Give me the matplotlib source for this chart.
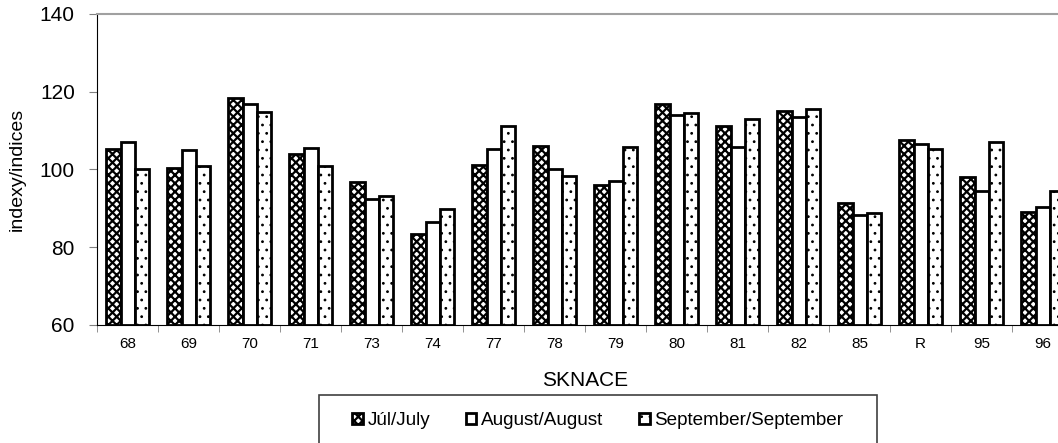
import numpy as np
import matplotlib.pyplot as plt
from matplotlib.patches import Rectangle

plt.rcParams['font.family'] = ['Liberation Sans', 'DejaVu Sans']
plt.rcParams['hatch.linewidth'] = 1.6

categories = ["68", "69", "70", "71", "73", "74", "77", "78", "79", "80", "81", "82", "85", "R", "95", "96"]
jul = [105.4, 100.4, 118.5, 104.0, 96.7, 83.3, 101.1, 106.1, 96.0, 116.9, 111.2, 115.0, 91.4, 107.6, 98.1, 89.1]
aug = [107.2, 105.0, 116.9, 105.5, 92.3, 86.4, 105.2, 100.0, 97.1, 114.0, 105.7, 113.4, 88.4, 106.5, 94.4, 90.3]
sep = [100.1, 100.9, 114.8, 101.0, 93.1, 89.8, 111.2, 98.4, 105.9, 114.6, 113.1, 115.5, 88.8, 105.2, 107.2, 94.5]
series_names = ["Júl/July", "August/August", "September/September"]

fig = plt.figure(figsize=(10.58, 4.43), dpi=100)
ax = fig.add_axes([0.0917, 0.2664, 0.9225, 0.702])

x = np.arange(len(categories))
w = 0.23
base = 60
b1 = ax.bar(x - w, np.array(jul) - base, w, bottom=base, facecolor='white', edgecolor='black',
            linewidth=2, hatch='xxxx', label=series_names[0])
b2 = ax.bar(x, np.array(aug) - base, w, bottom=base, facecolor='white', edgecolor='black',
            linewidth=2, label=series_names[1])
b3 = ax.bar(x + w, np.array(sep) - base, w, bottom=base, facecolor='white', edgecolor='black',
            linewidth=2, hatch='..', label=series_names[2])
for b in b3:
    b._hatch_linewidth = 0.8

ax.set_ylim(60, 140)
ax.set_xlim(-0.5, len(categories) - 0.5)
ax.set_yticks([60, 80, 100, 120, 140])
ax.tick_params(axis='y', labelsize=15, direction='out', length=6, pad=10, color='#808080')
ax.set_xticks(x)
ax.set_xticklabels(categories, fontsize=11)
ax.tick_params(axis='x', which='major', length=0, pad=9)
ax.set_xticks(np.arange(-0.5, len(categories), 1), minor=True)
ax.tick_params(axis='x', which='minor', length=5, direction='out', color='#808080')

ax.spines['right'].set_visible(False)
ax.spines['top'].set_color('#a0a0a0')
ax.spines['top'].set_linewidth(1.5)
ax.spines['left'].set_color('black')
ax.spines['bottom'].set_color('black')

ax.set_ylabel('indexy/indices', fontsize=14, labelpad=10)
ax.set_xlabel('SKNACE', fontsize=15, labelpad=14)

# legend box (open at the bottom, runs off the figure)
fig.patches.append(Rectangle((0.3015, -0.05), 0.5274, 0.1584, transform=fig.transFigure,
                             facecolor='none', edgecolor='#404040', linewidth=1.2))
leg = fig.legend(handles=[b1, b2, b3], loc='center left', bbox_to_anchor=(0.333, 0.05),
                 ncol=3, fontsize=13.6, frameon=False, handlelength=0.55, handleheight=0.55,
                 handletextpad=0.25, columnspacing=1.9, borderpad=0, borderaxespad=0)
leg.get_patches()[2]._hatch_linewidth = 0.8

fig.savefig('out.png', dpi=100)
